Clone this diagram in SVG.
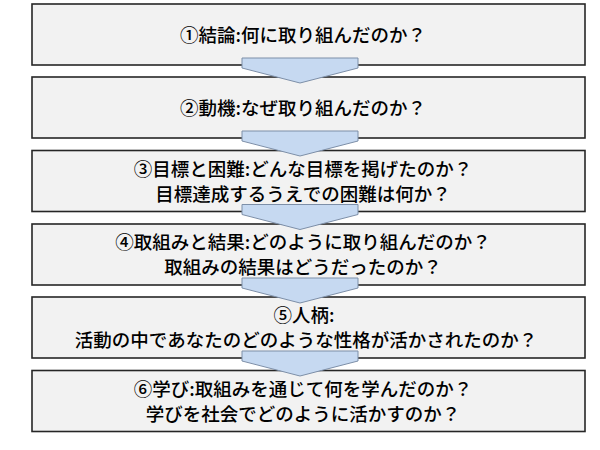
<svg xmlns="http://www.w3.org/2000/svg" width="600" height="450" viewBox="0 0 600 450">
<style>
.box{fill:#f2f2f2;stroke:#262626;stroke-width:1.6}
.arr{fill:#c6d9f1;stroke:#7d8fa8;stroke-width:1}
.t{font-family:"Noto Sans CJK JP","Noto Sans",sans-serif;font-size:18.5px;font-weight:500;fill:#000;text-anchor:middle;dominant-baseline:central}
</style>
<rect width="600" height="450" fill="#ffffff"/>
<g id="node1"><rect class="box" x="32" y="4" width="553" height="61"/><text class="t" x="303" y="34">①結論:何に取り組んだのか？</text></g>
<g id="node2"><rect class="box" x="32" y="77" width="553" height="61"/><text class="t" x="303" y="107">②動機:なぜ取り組んだのか？</text></g>
<g id="node3"><rect class="box" x="32" y="150.5" width="553" height="61"/><text class="t" x="303" y="167.5">③目標と困難:どんな目標を掲げたのか？</text><text class="t" x="303" y="192.5">目標達成するうえでの困難は何か？</text></g>
<g id="node4"><rect class="box" x="32" y="224" width="553" height="61"/><text class="t" x="303" y="241">④取組みと結果:どのように取り組んだのか？</text><text class="t" x="303" y="266">取組みの結果はどうだったのか？</text></g>
<g id="node5"><rect class="box" x="32" y="297" width="553" height="61"/><text class="t" x="304" y="314">⑤人柄:</text><text class="t" x="306" y="339">活動の中であなたのどのような性格が活かされたのか？</text></g>
<g id="node6"><rect class="box" x="32" y="370.5" width="553" height="61"/><text class="t" x="303" y="387.5">⑥学び:取組みを通じて何を学んだのか？</text><text class="t" x="303" y="412.5">学びを社会でどのように活かすのか？</text></g>
<g id="connectors">
<polygon class="arr" points="242,58 358,58 358,68 300,83 242,68"/>
<polygon class="arr" points="242,131 358,131 358,141 300,156 242,141"/>
<polygon class="arr" points="242,204.5 358,204.5 358,214.5 300,229.5 242,214.5"/>
<polygon class="arr" points="242,278 358,278 358,288 300,303 242,288"/>
<polygon class="arr" points="242,351 358,351 358,361 300,376 242,361"/>
</g>
</svg>
